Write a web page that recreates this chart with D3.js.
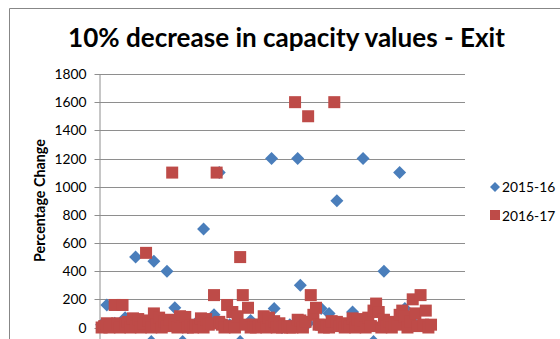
<!DOCTYPE html>
<html>
<head>
<meta charset="utf-8">
<script src="https://cdn.jsdelivr.net/npm/d3@7"></script>
<style>
  html, body { margin: 0; padding: 0; background: #fff; overflow: hidden; }
  svg { display: block; }
</style>
</head>
<body>
<svg id="chart" width="560" height="339"></svg>
<script>
// ---- chart text ----
const chartTitle = "10% decrease in capacity values - Exit";
const yAxisTitle = "Percentage Change";
const seriesNames = ["2015-16", "2016-17"];
const yTickValues = [0, 200, 400, 600, 800, 1000, 1200, 1400, 1600, 1800];

// ---- 2015-16: point number and percentage change ----
const x2015 = [1, 3, 6, 10, 12, 14, 17, 20, 21, 24, 26, 29, 32, 34, 37, 40, 44, 46, 50, 54,
               58, 60, 63, 66, 67, 70, 73, 76, 77, 80, 85, 88, 91, 94, 97, 101, 104, 105, 109, 111,
               115, 117, 120, 125];
const y2015 = [20, 160, 30, 70, 10, 500, 40, -100, 470, 20, 400, 140, -100, 0, 30, 700, 90, 1100, 20, -100,
               50, 10, 40, 1200, 135, 0, 20, 1200, 300, 30, 135, 100, 900, 10, 110, 1200, 30, -100, 400, 20,
               1100, 135, 40, 10];

// ---- 2016-17: percentage change for points 1..127 ----
const y2016 = [0, 10, 30, 0, 20, 160, 30, 0, 160, 20,
               40, 0, 65, 10, 60, 0, 25, 530, 50, 0,
               100, 20, 70, 0, 40, 10, 55, 1100, 20, 0,
               80, 10, 75, 0, 15, 0, 20, 10, 65, 0,
               60, 20, 30, 230, 1100, 40, 20, 0, 160, 10,
               110, 0, 80, 500, 230, 20, 140, 0, 20, 0,
               10, 20, 80, 0, 70, 10, 45, 0, 30, 0,
               5, 10, 0, 0, 1600, 55, 50, 0, 40, 1500,
               230, 90, 140, 20, 20, 0, 10, 0, 45, 1600,
               40, 10, 20, 0, 30, 10, 65, 0, 60, 20,
               50, 0, 70, 10, 120, 170, 110, 0, 55, 10,
               40, 0, 30, 20, 90, 120, 80, 0, 40, 200,
               100, 10, 230, 20, 120, 0, 20];

const colors = { s1: "#4A7EBB", s2: "#BE4B48", grid: "#8E8E8E", frame: "#878787", text: "#000" };
const fontFamily = "Lato, 'Open Sans', sans-serif";

const svg = d3.select("#chart");

// chart frame (left and top edges are in view)
svg.append("path")
  .attr("d", "M9.5,339 V8.5 H560")
  .attr("fill", "none")
  .attr("stroke", colors.frame)
  .attr("stroke-width", 1);

// ---- scales ----
const x = d3.scaleLinear().domain([0, 140]).range([99, 465]);
const y = d3.scaleLinear().domain([-200, 1800]).range([327.5 + 28.17, 74]);

// horizontal gridlines
svg.append("g")
  .selectAll("line")
  .data(yTickValues.filter(d => d > 0))
  .join("line")
  .attr("x1", x(0)).attr("x2", x(140))
  .attr("y1", d => Math.round(y(d)) + 0.5)
  .attr("y2", d => Math.round(y(d)) + 0.5)
  .attr("stroke", colors.grid)
  .attr("stroke-width", 1);

// vertical value axis
const yAxis = d3.axisLeft(y)
  .tickValues(yTickValues)
  .tickSizeInner(5)
  .tickSizeOuter(0)
  .tickPadding(8)
  .tickFormat(d3.format("d"));

const gAxis = svg.append("g")
  .attr("transform", `translate(${Math.round(x(0)) + 0.5},0)`)
  .call(yAxis);
gAxis.select(".domain").attr("stroke", colors.grid);
gAxis.selectAll(".tick line").attr("stroke", colors.grid)
  .attr("transform", function () {
    const t = d3.select(this.parentNode).attr("transform");
    return null;
  });
gAxis.selectAll(".tick").attr("transform", d => `translate(0,${Math.round(y(d)) + 0.5})`);
gAxis.selectAll(".tick text")
  .attr("font-family", fontFamily)
  .attr("font-size", 13.8)
  .attr("fill", colors.text);

// ---- markers ----
const diamond = r => `M0,${-r} L${r},0 L0,${r} L${-r},0 Z`;

const pts2015 = x2015.map((d, i) => ({ x: d, y: y2015[i] }));
const pts2016 = y2016.map((v, i) => ({ x: i + 1, y: v }));

svg.append("g")
  .selectAll("path")
  .data(pts2015)
  .join("path")
  .attr("d", diamond(6.5))
  .attr("transform", d => `translate(${x(d.x)},${y(d.y)})`)
  .attr("fill", colors.s1);

svg.append("g")
  .selectAll("rect")
  .data(pts2016)
  .join("rect")
  .attr("x", d => x(d.x) - 6)
  .attr("y", d => y(d.y) - 6)
  .attr("width", 12)
  .attr("height", 12)
  .attr("fill", colors.s2);

// ---- title ----
function fitWidth(sel, target) {
  const w = sel.node().getComputedTextLength();
  const fs = parseFloat(sel.attr("font-size"));
  sel.attr("font-size", fs * target / w);
}

const titleText = svg.append("text")
  .attr("x", 286.5)
  .attr("y", 47)
  .attr("text-anchor", "middle")
  .attr("font-family", fontFamily)
  .attr("font-weight", "bold")
  .attr("font-size", 21)
  .attr("fill", colors.text)
  .text(chartTitle);
fitWidth(titleText, 437);

const yTitle = svg.append("text")
  .attr("transform", "translate(45,200.5) rotate(-90)")
  .attr("text-anchor", "middle")
  .attr("font-family", fontFamily)
  .attr("font-weight", "bold")
  .attr("font-size", 12)
  .attr("fill", colors.text)
  .text(yAxisTitle);
fitWidth(yTitle, 123);

// ---- legend ----
const legend = svg.append("g");
const legendRows = [
  { name: seriesNames[0], cy: 187, base: 192, shape: "diamond", color: colors.s1 },
  { name: seriesNames[1], cy: 215, base: 220.5, shape: "square", color: colors.s2 }
];
legendRows.forEach(r => {
  if (r.shape === "diamond") {
    legend.append("path").attr("d", diamond(5))
      .attr("transform", `translate(495,${r.cy})`).attr("fill", r.color);
  } else {
    legend.append("rect").attr("x", 490).attr("y", r.cy - 5)
      .attr("width", 10).attr("height", 10).attr("fill", r.color);
  }
  legend.append("text")
    .attr("x", 502).attr("y", r.base)
    .attr("font-family", fontFamily)
    .attr("font-size", 13.8)
    .attr("fill", colors.text)
    .text(r.name);
});
</script>
</body>
</html>
